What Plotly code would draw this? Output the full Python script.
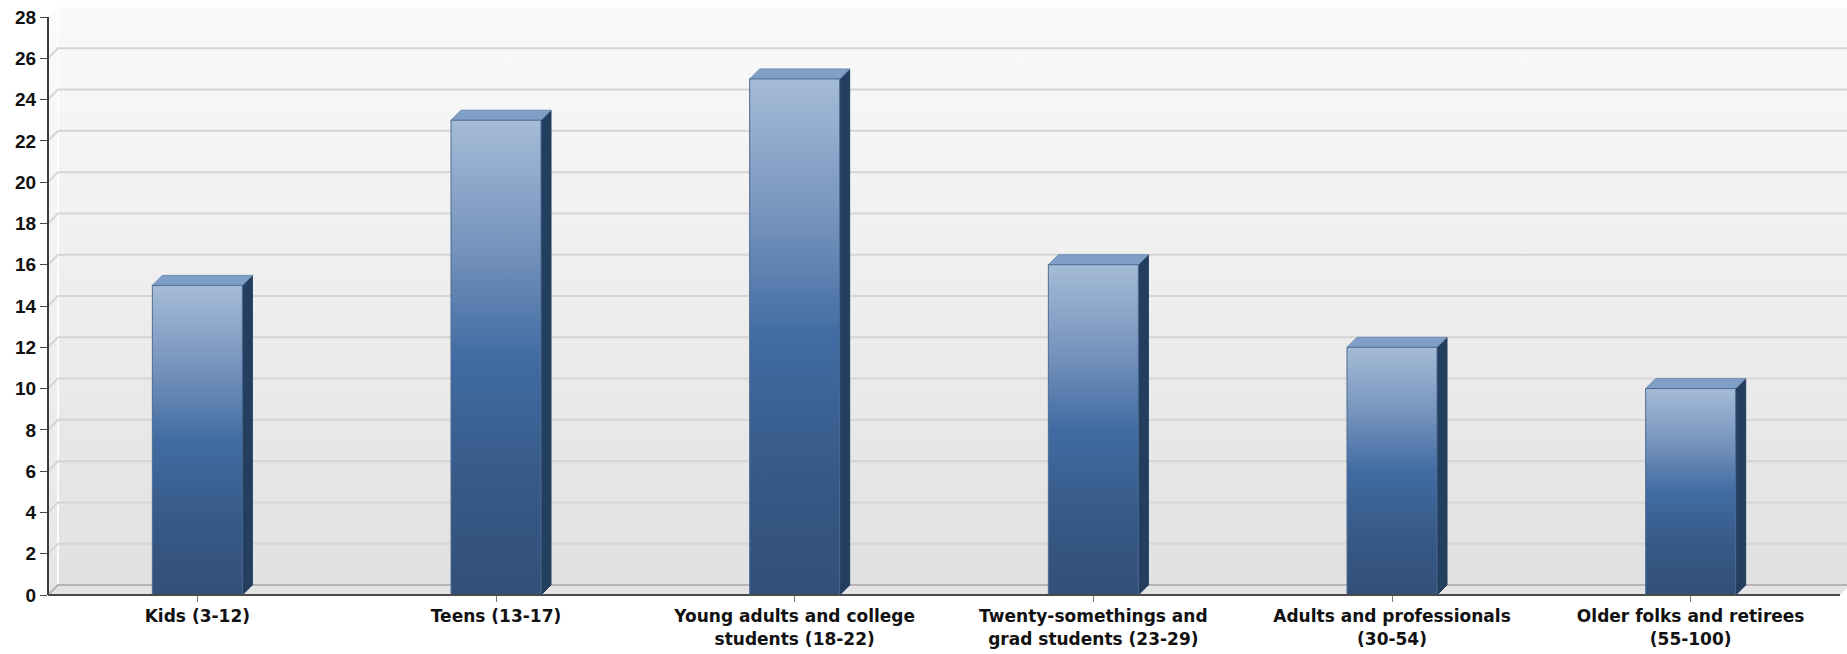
import plotly.graph_objects as go

# ---- data ----
categories = [
    "Kids (3-12)",
    "Teens (13-17)",
    "Young adults and college<br>students (18-22)",
    "Twenty-somethings and<br>grad students (23-29)",
    "Adults and professionals<br>(30-54)",
    "Older folks and retirees<br>(55-100)",
]
values = [15, 23, 25, 16, 12, 10]
y_ticks = list(range(0, 30, 2))

# ---- geometry of the pseudo-3D frame ----
W, H = 1847, 654
M_L, M_R, M_T, M_B = 48, 0, 7, 59
PLOT_W = W - M_L - M_R
PLOT_H = H - M_T - M_B
DEPTH = 10            # px offset of the back wall / bar depth
Y_MAX = 28
AXIS_END_PX = 1840    # x pixel where the category axis ends

n = len(categories)
ux = (AXIS_END_PX - M_L) / n          # px per category
uy = (PLOT_H - DEPTH) / Y_MAX          # px per value unit
x0 = -0.5
x1 = x0 + PLOT_W / ux
y1 = PLOT_H / uy
dx = DEPTH / ux
dy = DEPTH / uy
half_w = 45 / ux                       # half width of the bar front face


def paper_x(x):
    return (x - x0) / (x1 - x0)


def paper_y(y):
    return y / y1


fig = go.Figure()

# back wall with a soft vertical gradient
fig.add_trace(go.Scatter(
    x=[x0 + dx, x1, x1, x0 + dx, x0 + dx],
    y=[dy, dy, y1, y1, dy],
    mode="lines", line=dict(width=0), fill="toself",
    fillgradient=dict(type="vertical",
                      colorscale=[[0, "#e1e1e1"], [1, "#fafafa"]]),
    hoverinfo="skip", showlegend=False,
))

# left side wall
fig.add_trace(go.Scatter(
    x=[x0, x0 + dx, x0 + dx, x0, x0],
    y=[0, dy, y1, Y_MAX, 0],
    mode="lines", line=dict(width=0), fill="toself",
    fillgradient=dict(type="vertical",
                      colorscale=[[0, "#e6e6e6"], [1, "#fbfbfb"]]),
    hoverinfo="skip", showlegend=False,
))
fig.add_trace(go.Scatter(
    x=[x0 + dx, x0 + dx], y=[dy, y1],
    mode="lines", line=dict(color="#fdfdfd", width=2),
    hoverinfo="skip", showlegend=False,
))

# floor
fig.add_trace(go.Scatter(
    x=[x0, x0 + n, x0 + n + dx, x0 + dx, x0],
    y=[0, 0, dy, dy, 0],
    mode="lines", line=dict(width=0), fill="toself", fillcolor="#e3e3e3",
    hoverinfo="skip", showlegend=False,
))

# grid lines on the back wall, with the short diagonal onto the side wall
gx, gy = [], []
for v in y_ticks:
    if v == 0 or v >= Y_MAX:
        continue
    gx += [x0, x0 + dx, x1, None]
    gy += [v, v + dy, v + dy, None]
fig.add_trace(go.Scatter(
    x=gx, y=gy, mode="lines", line=dict(color="#d5d5d5", width=2),
    hoverinfo="skip", showlegend=False,
))

# floor back edge and left corner
fig.add_trace(go.Scatter(
    x=[x0, x0 + dx, x1], y=[0, dy, dy],
    mode="lines", line=dict(color="#b4b4b4", width=2),
    hoverinfo="skip", showlegend=False,
))

# bars: side face, top face and gradient front face
bar_scale = [
    [0.0, "#324f78"],
    [0.25, "#375a88"],
    [0.5, "#416ca2"],
    [0.72, "#7391bb"],
    [1.0, "#a5bcd7"],
]
for i, v in enumerate(values):
    left, right = i - half_w, i + half_w
    # side
    fig.add_trace(go.Scatter(
        x=[right, right + dx, right + dx, right, right],
        y=[0, dy, v + dy, v, 0],
        mode="lines", line=dict(color="#22395a", width=1), fill="toself",
        fillcolor="#243e5f", hoverinfo="skip", showlegend=False,
    ))
    # top
    fig.add_trace(go.Scatter(
        x=[left, right, right + dx, left + dx, left],
        y=[v, v, v + dy, v + dy, v],
        mode="lines", line=dict(color="#7390b7", width=1), fill="toself",
        fillcolor="#809fc6", hoverinfo="skip", showlegend=False,
    ))
    # front
    fig.add_trace(go.Scatter(
        x=[left, right, right, left, left],
        y=[0, 0, v, v, 0],
        mode="lines", line=dict(color="#4d6a93", width=1), fill="toself",
        fillgradient=dict(type="vertical", colorscale=bar_scale),
        name=categories[i].replace("<br>", " "),
        hovertemplate="%{fullData.name}: " + str(v) + "<extra></extra>",
        showlegend=False,
    ))

# axis lines
fig.add_shape(type="line", xref="paper", yref="paper",
              x0=0, x1=0, y0=0, y1=paper_y(Y_MAX),
              line=dict(color="#3c3c3c", width=2))
fig.add_shape(type="line", xref="paper", yref="paper",
              x0=0, x1=paper_x(x0 + n), y0=0, y1=0,
              line=dict(color="#4a4a4a", width=2))

fig.update_layout(
    width=W, height=H,
    margin=dict(l=M_L, r=M_R, t=M_T, b=M_B),
    paper_bgcolor="white", plot_bgcolor="white",
    showlegend=False,
    xaxis=dict(
        range=[x0, x1], tickmode="array",
        tickvals=list(range(n)), ticktext=categories,
        ticks="outside", ticklen=6, tickcolor="#777", tickwidth=1,
        showgrid=False, zeroline=False, showline=False,
        tickfont=dict(family="DejaVu Sans", size=17, color="#111", weight="bold"),
    ),
    yaxis=dict(
        range=[0, y1], tickmode="array", tickvals=y_ticks,
        ticktext=[str(t) for t in y_ticks],
        ticks="outside", ticklen=7, tickcolor="#444", tickwidth=1,
        showgrid=False, zeroline=False, showline=False,
        tickfont=dict(family="Liberation Sans", size=19, color="#111", weight="bold"),
    ),
)

fig.write_html("out.html")
